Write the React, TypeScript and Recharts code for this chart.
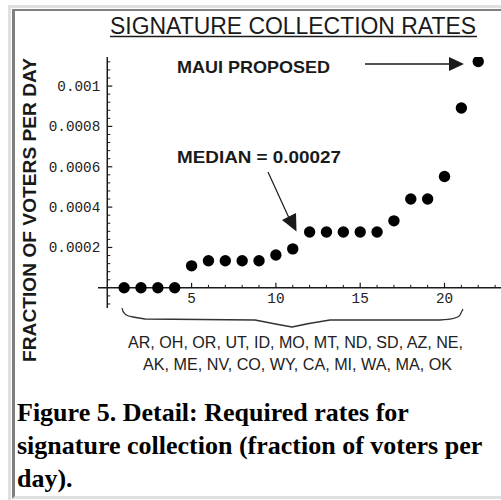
import React from 'react'
import { ScatterChart, Scatter, XAxis, YAxis, ReferenceLine, ReferenceDot } from 'recharts'

// states ranked by required collection rate (last one is the Maui proposal)
const stateRank = [1, 2, 3, 4, 5, 6, 7, 8, 9, 10, 11, 12, 13, 14, 15, 16, 17, 18, 19, 20, 21, 22]
const rates = [
  0, 0, 0, 0, 0.000109, 0.000134, 0.000134, 0.000134, 0.000134, 0.000163, 0.000193,
  0.000277, 0.000277, 0.000277, 0.000277, 0.000277, 0.000332, 0.00044, 0.00044, 0.000552,
  0.000891, 0.001122,
]

const xMajorTicks = [5, 10, 15, 20]
const xMinorTicks = [1, 2, 3, 4, 6, 7, 8, 9, 11, 12, 13, 14, 16, 17, 18, 19, 21, 22, 23]
const yMajorTicks = [0.0002, 0.0004, 0.0006, 0.0008, 0.001]
const yMajorLabels = ['0.0002', '0.0004', '0.0006', '0.0008', '0.001']
const yMinorTicks = [
  -0.00008, -0.00004, 0.00004, 0.00008, 0.00012, 0.00016, 0.00024, 0.00028, 0.00032, 0.00036,
  0.00044, 0.00048, 0.00052, 0.00056, 0.00064, 0.00068, 0.00072, 0.00076, 0.00084, 0.00088,
  0.00092, 0.00096, 0.00104, 0.00108, 0.00112,
]

const statesLine1 = 'AR, OH, OR, UT, ID, MO, MT, ND, SD, AZ, NE,'
const statesLine2 = 'AK, ME, NV, CO, WY, CA, MI, WA, MA, OK'

const chartData = stateRank.map((rank, i) => ({ rank, rate: rates[i] }))

const INK = '#1a1a1a'
const MONO = '"Liberation Mono", "Courier New", monospace'
const SANS = '"Liberation Sans", Arial, sans-serif'

export default function App() {
  return (
    <div style={{ position: 'absolute', left: 0, top: 0, width: 501, height: 500, background: '#fff', overflow: 'hidden' }}>
      {/* table borders */}
      <div style={{ position: 'absolute', left: 8, top: 5, width: 600, height: 600, borderTop: '3px solid #e0e0e0', borderLeft: '3px solid #e0e0e0' }} />
      <div style={{ position: 'absolute', left: 12, top: 9, width: 600, height: 485, borderTop: '2px solid #808080', borderLeft: '3px solid #808080', borderBottom: '3px solid #e0e0e0' }} />

      <div style={{ position: 'absolute', left: 0, top: 0 }}>
        <ScatterChart width={501} height={380} margin={{ top: 57, right: 0, bottom: 72, left: 98 }}>
          <XAxis type="number" dataKey="rank" domain={[-0.55, 23.35]} hide allowDataOverflow />
          <YAxis type="number" dataKey="rate" domain={[-0.0001, 0.001144]} hide allowDataOverflow />
          <ReferenceLine y={0} stroke={INK} strokeWidth={1.5} />
          <ReferenceLine x={0} stroke={INK} strokeWidth={1.5} />
          {xMinorTicks.map((v) => (
            <ReferenceDot key={'xm' + v} x={v} y={0} shape={(p: any) => (
              <line x1={p.cx} y1={p.cy} x2={p.cx} y2={p.cy - 3} stroke={INK} strokeWidth={1} />
            )} />
          ))}
          {xMajorTicks.map((v) => (
            <ReferenceDot key={'xM' + v} x={v} y={0} shape={(p: any) => (
              <g>
                <line x1={p.cx} y1={p.cy} x2={p.cx} y2={p.cy - 5} stroke={INK} strokeWidth={1.2} />
                <text x={p.cx} y={p.cy + 15} textAnchor="middle" fontFamily={MONO} fontSize={14.3} fill="#222">{v}</text>
              </g>
            )} />
          ))}
          {yMinorTicks.map((v) => (
            <ReferenceDot key={'ym' + v} x={0} y={v} shape={(p: any) => (
              <line x1={p.cx} y1={p.cy} x2={p.cx + 3} y2={p.cy} stroke={INK} strokeWidth={1} />
            )} />
          ))}
          {yMajorTicks.map((v, i) => (
            <ReferenceDot key={'yM' + v} x={0} y={v} shape={(p: any) => (
              <g>
                <line x1={p.cx} y1={p.cy} x2={p.cx + 5} y2={p.cy} stroke={INK} strokeWidth={1.2} />
                <text x={p.cx - 7} y={p.cy + 5} textAnchor="end" fontFamily={MONO} fontSize={14.3} fill="#222">{yMajorLabels[i]}</text>
              </g>
            )} />
          ))}
          <Scatter
            data={chartData}
            isAnimationActive={false}
            shape={(p: any) => <circle cx={p.cx} cy={p.cy} r={5.7} fill="#000" />}
          />
        </ScatterChart>
      </div>

      <svg width={501} height={500} style={{ position: 'absolute', left: 0, top: 0, pointerEvents: 'none' }}>
        <text x={110} y={33.5} fontFamily={SANS} fontSize={23} textLength={366} lengthAdjust="spacingAndGlyphs" fill={INK}>
          SIGNATURE COLLECTION RATES
        </text>
        <line x1={110} y1={36.5} x2={477} y2={36.5} stroke={INK} strokeWidth={1.5} />

        <text transform="translate(36,210) rotate(-90)" textAnchor="middle" fontFamily={SANS} fontWeight="bold" fontSize={18.5} textLength={304} lengthAdjust="spacingAndGlyphs" fill={INK}>
          FRACTION OF VOTERS PER DAY
        </text>

        <text x={177} y={73} fontFamily={SANS} fontWeight="bold" fontSize={17} textLength={153} lengthAdjust="spacingAndGlyphs" fill={INK}>MAUI PROPOSED</text>
        <line x1={365} y1={64} x2={452} y2={64} stroke={INK} strokeWidth={1.5} />
        <polygon points="449,57 464,64 449,71" fill={INK} />

        <text x={177} y={163} fontFamily={SANS} fontWeight="bold" fontSize={17} textLength={164} lengthAdjust="spacingAndGlyphs" fill={INK}>MEDIAN = 0.00027</text>
        <line x1={268} y1={172} x2={289} y2={218} stroke={INK} strokeWidth={1.2} />
        <polygon points="282,220 296,213 296.5,231.5" fill={INK} />

        <path d="M122,308 Q123,316 133,317 L145,319 L255,320 Q275,324 292,327 Q310,323 330,320 L440,320 Q458,319 460,315 L463,309"
          fill="none" stroke="#333" strokeWidth={1.3} />
        <text x={295.5} y={348} textAnchor="middle" fontFamily={SANS} fontSize={16} textLength={335} lengthAdjust="spacingAndGlyphs" fill="#222">{statesLine1}</text>
        <text x={297.5} y={370} textAnchor="middle" fontFamily={SANS} fontSize={16} textLength={309} lengthAdjust="spacingAndGlyphs" fill="#222">{statesLine2}</text>

        <g fontFamily='"Liberation Serif", "Times New Roman", serif' fontWeight="bold" fontSize={26} fill="#000">
          <text x={17} y={421}>Figure 5. Detail: Required rates for</text>
          <text x={17} y={454}>signature collection (fraction of voters per</text>
          <text x={17} y={487}>day).</text>
        </g>
      </svg>
    </div>
  )
}
